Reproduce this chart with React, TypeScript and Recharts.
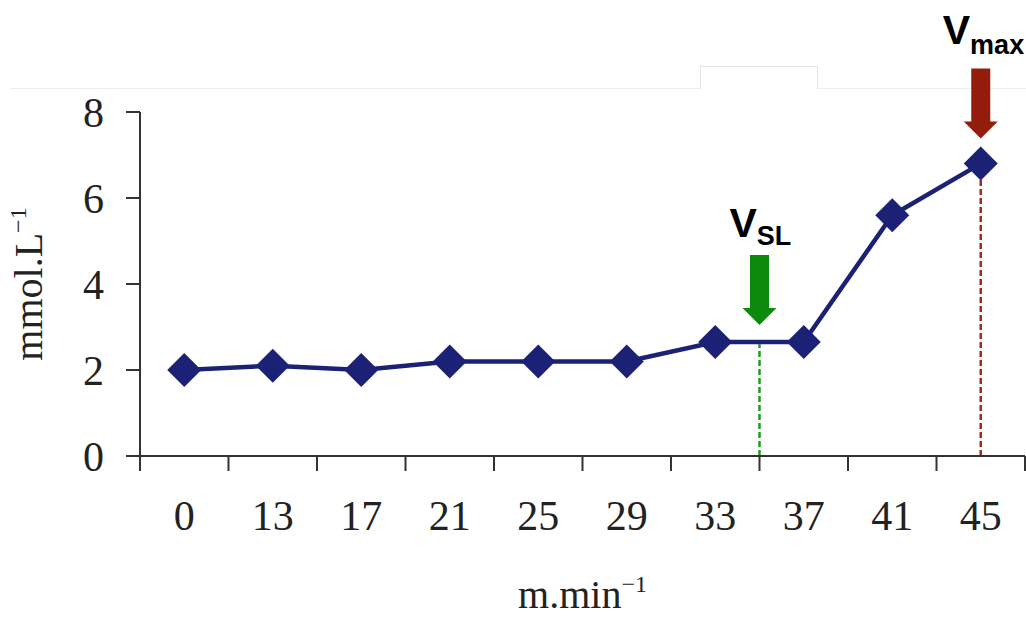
import { LineChart, Line, XAxis, YAxis, ReferenceLine, ReferenceDot, Label } from "recharts";

const speeds = ["0", "13", "17", "21", "25", "29", "33", "37", "41", "45"];
const lactate = [2.0, 2.1, 2.0, 2.2, 2.2, 2.2, 2.65, 2.65, 5.6, 6.8];
const yTicks = [0, 2, 4, 6, 8];
// VSL sits on the boundary between 33 and 37, Vmax on the last stage
const vslAt = 7;
const vslValue = 2.65;
const vmaxIndex = 9;

const NAVY = "#1b2275";
const GREEN = "#0b8a0b";
const RED = "#941c0c";
const SERIF = "'Liberation Serif', 'Times New Roman', serif";
const SANS = "'Liberation Sans', Arial, sans-serif";

const data = speeds.map((s, i) => ({ speed: s, pos: i + 0.5, lactate: lactate[i] }));
const bounds = speeds.map((_, i) => i).concat(speeds.length);
const centers = data.map((d) => d.pos);

// eslint-disable-next-line @typescript-eslint/no-explicit-any
function Diamond({ cx, cy }: any) {
  if (cx == null || cy == null) return null;
  const r = 17;
  return <polygon points={`${cx},${cy - r} ${cx + r},${cy} ${cx},${cy + r} ${cx - r},${cy}`} fill={NAVY} />;
}

// eslint-disable-next-line @typescript-eslint/no-explicit-any
function Arrow({ cx, cy, gap, color, sub, labelGap, labelDx, subDy }: any) {
  if (cx == null || cy == null) return null;
  const tip = cy - gap;
  const headH = 17, headW = 17, shaftW = 9.5, shaftH = 53;
  const top = tip - headH - shaftH;
  const pts = [
    [cx - shaftW, top], [cx + shaftW, top], [cx + shaftW, tip - headH], [cx + headW, tip - headH],
    [cx, tip], [cx - headW, tip - headH], [cx - shaftW, tip - headH],
  ].map((p) => p.join(",")).join(" ");
  return (
    <g>
      <polygon points={pts} fill={color} />
      <text x={cx + labelDx} y={top - labelGap} fontFamily={SANS} fontWeight="bold" fill="#000">
        <tspan fontSize={41}>V</tspan>
        <tspan fontSize={27} dy={subDy}>{sub}</tspan>
      </text>
    </g>
  );
}

// eslint-disable-next-line @typescript-eslint/no-explicit-any
function YTitle({ viewBox }: any) {
  const cx = 29;
  const cy = viewBox.y + viewBox.height / 2;
  return (
    <text transform={`rotate(-90 ${cx} ${cy})`} x={cx} y={cy + 13} textAnchor="middle" fontFamily={SERIF} fill="#222">
      <tspan fontSize={40}>mmol.L</tspan>
      <tspan fontSize={24} dy={-16}>−1</tspan>
    </text>
  );
}

// eslint-disable-next-line @typescript-eslint/no-explicit-any
function XTitle({ viewBox }: any) {
  const cx = viewBox.x + viewBox.width / 2;
  return (
    <text x={cx} y={608} textAnchor="middle" fontFamily={SERIF} fill="#222">
      <tspan fontSize={40}>m.min</tspan>
      <tspan fontSize={24} dy={-16}>−1</tspan>
    </text>
  );
}

export default function App() {
  return (
    <div style={{ position: "absolute", left: 0, top: 0, width: 1026, height: 620, background: "#fff" }}>
      <div style={{ position: "absolute", left: 10, top: 88, width: 1016, height: 1, background: "#eeeeee" }} />
      <div style={{ position: "absolute", left: 700, top: 66, width: 116, height: 22, border: "1px solid #e4e4e4", borderBottom: "none", background: "#fff" }} />
      <LineChart
        width={1026}
        height={620}
        data={data}
        margin={{ top: 112, right: 1, left: 0, bottom: 103 }}
        style={{ position: "absolute", left: 0, top: 0 }}
      >
        <YAxis
          domain={[0, 8]}
          ticks={yTicks}
          width={140}
          tickSize={14}
          tickMargin={22}
          interval={0}
          tick={{ fill: "#222", fontSize: 42, fontFamily: SERIF }}
          axisLine={{ stroke: "#333", strokeWidth: 2 }}
          tickLine={{ stroke: "#333", strokeWidth: 2 }}
        >
          <Label content={<YTitle />} />
        </YAxis>
        <XAxis
          xAxisId="b"
          type="number"
          dataKey="pos"
          domain={[0, speeds.length]}
          ticks={bounds}
          interval={0}
          height={1}
          tickSize={15}
          tickFormatter={() => ""}
          axisLine={{ stroke: "#333", strokeWidth: 2 }}
          tickLine={{ stroke: "#333", strokeWidth: 2 }}
        />
        <XAxis
          xAxisId="lab"
          type="number"
          dataKey="pos"
          domain={[0, speeds.length]}
          ticks={centers}
          interval={0}
          height={60}
          tickSize={0}
          tickMargin={43}
          axisLine={false}
          tickLine={false}
          tickFormatter={(v: number) => speeds[Math.floor(v)]}
          tick={{ fill: "#222", fontSize: 42, fontFamily: SERIF }}
        >
          <Label content={<XTitle />} />
        </XAxis>
        <ReferenceLine
          xAxisId="b"
          segment={[{ x: vslAt, y: 0 }, { x: vslAt, y: vslValue - 0.05 }]}
          stroke="#1f9a1f"
          strokeWidth={2.5}
          strokeDasharray="6 3"
        />
        <ReferenceLine
          xAxisId="b"
          segment={[{ x: data[vmaxIndex].pos, y: 0 }, { x: data[vmaxIndex].pos, y: lactate[vmaxIndex] }]}
          stroke="#a52a1e"
          strokeWidth={2.5}
          strokeDasharray="6 3"
        />
        <Line
          xAxisId="b"
          type="linear"
          dataKey="lactate"
          stroke={NAVY}
          strokeWidth={4.5}
          dot={(p: any) => <Diamond key={p.index} {...p} />}
          activeDot={false}
          isAnimationActive={false}
        />
        <ReferenceDot
          xAxisId="b"
          x={vslAt}
          y={vslValue}
          shape={(p: any) => (
            <Arrow {...p} gap={17} color={GREEN} sub="SL" labelGap={18} labelDx={-30} subDy={8} />
          )}
        />
        <ReferenceDot
          xAxisId="b"
          x={data[vmaxIndex].pos}
          y={lactate[vmaxIndex]}
          shape={(p: any) => (
            <Arrow {...p} gap={25} color={RED} sub="max" labelGap={25} labelDx={-38} subDy={10} />
          )}
        />
      </LineChart>
    </div>
  );
}
